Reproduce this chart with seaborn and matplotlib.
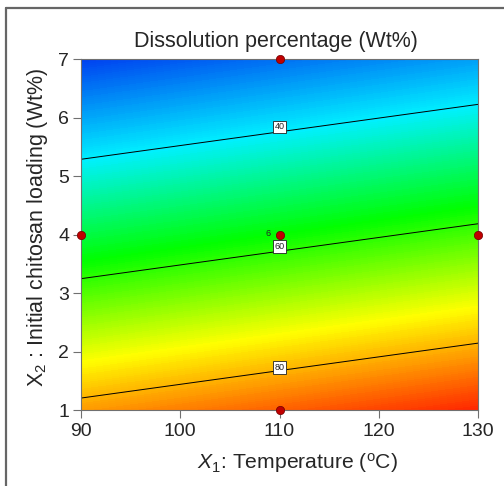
import numpy as np
import pandas as pd
import matplotlib
matplotlib.use("Agg")
import matplotlib.pyplot as plt
from matplotlib.colors import LinearSegmentedColormap
from matplotlib.lines import Line2D
import seaborn as sns

# Axis grid (tick positions) and estimated response values
temperature = [90, 100, 110, 120, 130]
chitosan = [1, 2, 3, 4, 5, 6, 7]
response = [
    [82.0, 84.3, 86.6, 88.9, 91.2],
    [72.2, 74.5, 76.8, 79.1, 81.4],
    [62.4, 64.7, 67.0, 69.3, 71.6],
    [52.6, 54.9, 57.2, 59.5, 61.8],
    [42.8, 45.1, 47.4, 49.7, 52.0],
    [33.0, 35.3, 37.6, 39.9, 42.2],
    [23.2, 25.5, 27.8, 30.1, 32.4],
]
contour_levels = [40, 60, 80]
label_x1 = 110
label_x2 = [5.84, 3.79, 1.73]

# Design points
pt_temp = [110, 110, 90, 130, 110]
pt_chit = [7, 1, 4, 4, 4]
center_reps = "6"

x_ticks = [90, 100, 110, 120, 130]
y_ticks = [1, 2, 3, 4, 5, 6, 7]

sns.set_style("white")
plt.rcParams["font.family"] = ["Liberation Sans", "DejaVu Sans"]
plt.rcParams["mathtext.fontset"] = "custom"
plt.rcParams["mathtext.rm"] = "Liberation Sans"
plt.rcParams["mathtext.it"] = "Liberation Sans:italic"

fig = plt.figure(figsize=(5.04, 4.86), dpi=100)
ax = fig.add_axes([81/504, 1-410/486, (478-81)/504, (410-59)/486])

cmap = LinearSegmentedColormap.from_list(
    "de", ["#0040f0", "#00f0ff", "#00ff00", "#ffff00", "#ff2800"])
Z = np.array(response)
ax.contourf(temperature, chitosan, Z, levels=np.linspace(23.2, 91.2, 200),
            cmap=cmap, vmin=23.2, vmax=91.2)
ax.contour(temperature, chitosan, Z, levels=contour_levels,
           colors="black", linewidths=0.7)
for lev, yy in zip(contour_levels, label_x2):
    ax.text(label_x1, yy, str(lev), fontsize=6.5, ha="center", va="center",
            color="#222222", zorder=6,
            bbox=dict(boxstyle="square,pad=0.2", facecolor="white",
                      edgecolor="#222222", linewidth=0.6))

pts = pd.DataFrame({"T": pt_temp, "C": pt_chit})
sns.scatterplot(data=pts, x="T", y="C", ax=ax, color="#c00000",
                edgecolor="#700000", s=36, linewidth=0.5, zorder=5)
for coll in ax.collections[-1:]:
    coll.set_clip_on(False)
ax.annotate(center_reps, (110, 4), xytext=(-8, 0.5), textcoords="offset points",
            fontsize=6.5, ha="center", va="center")

ax.set_xlim(90, 130)
ax.set_ylim(1, 7)
ax.set_xticks(x_ticks)
ax.set_yticks(y_ticks)
ax.tick_params(axis="both", direction="out", length=6, width=0.8,
               color="#707070", labelsize=14, left=True, bottom=True)
ax.tick_params(axis="x", pad=3.5)
ax.tick_params(axis="y", pad=2.5)
for s in ax.spines.values():
    s.set_color("#707070")
    s.set_linewidth(0.8)

ax.set_xlabel(r"$X_1$: Temperature ($^{\mathregular{o}}$C)", fontsize=15.2)
ax.set_ylabel(r"$\mathregular{X_2}$ : Initial chitosan loading (Wt%)", fontsize=15.5)
ax.xaxis.set_label_coords(0.545, -0.118)
ax.yaxis.set_label_coords(-0.078, 0.521)
ax.set_title("Dissolution percentage (Wt%)", fontsize=15.5, pad=9, x=0.49)

# outer frame remnants
fig.add_artist(Line2D([6/504, 1], [1-8/486, 1-8/486], color="#666666", lw=1.6,
                      transform=fig.transFigure))
fig.add_artist(Line2D([6/504, 6/504], [0, 1-8/486], color="#666666", lw=1.6,
                      transform=fig.transFigure))

fig.savefig("out.png", dpi=100)
